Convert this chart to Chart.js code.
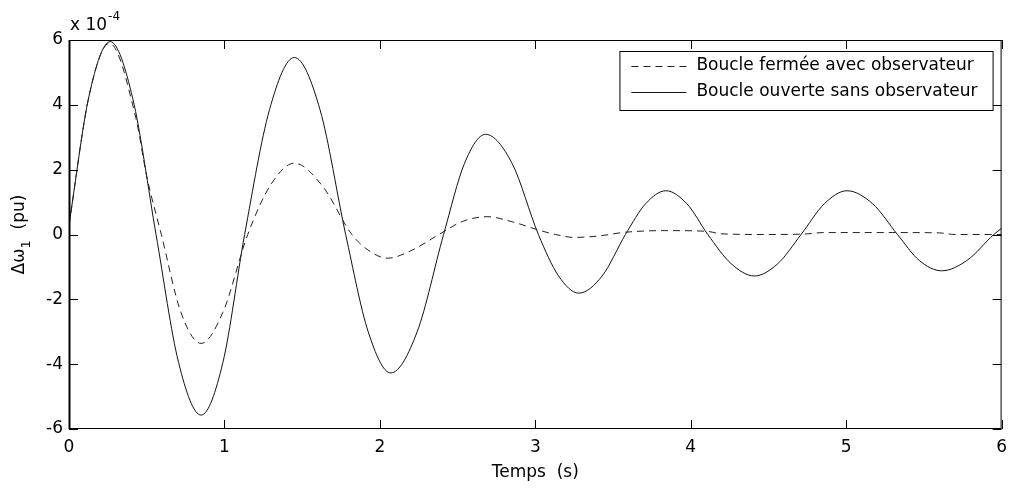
<!DOCTYPE html>
<html>
<head>
<meta charset="utf-8">
<script src="https://cdn.jsdelivr.net/npm/chart.js@4.4.1/dist/chart.umd.min.js"></script>
<style>
    body { margin: 0; background: #fff; }
    #wrap { width: 1015px; height: 488px; }
</style>
</head>
<body>
<div id="wrap"><canvas id="omegaChart"></canvas></div>
<script>
// values in units of 1e-4 pu
const timeOpen = [0, 0.13, 0.265, 0.41, 0.56, 0.705, 0.85, 0.99, 1.13, 1.29, 1.45, 1.615, 1.78, 1.925, 2.07, 2.24, 2.41, 2.545, 2.68, 2.85, 3.02, 3.15, 3.28, 3.43, 3.58, 3.71, 3.84, 3.975, 4.11, 4.26, 4.41, 4.56, 4.71, 4.86, 5.005, 5.17, 5.33, 5.47, 5.615, 5.78, 5.95, 6.0];
const valueOpen = [0.3, 4.3, 5.95, 4.2, 0, -3.95, -5.57, -3.95, 0, 3.85, 5.46, 3.85, 0, -3.0, -4.27, -3.0, 0, 2.2, 3.09, 2.2, 0, -1.28, -1.81, -1.28, 0, 0.95, 1.35, 0.95, 0, -0.9, -1.28, -0.9, 0, 0.95, 1.35, 0.95, 0, -0.8, -1.12, -0.79, 0, 0.19];

const timeClosed = [0, 0.13, 0.26, 0.43, 0.5, 0.594, 0.72, 0.85, 0.99, 1.15, 1.3, 1.45, 1.63, 1.82, 1.93, 2.05, 2.2, 2.38, 2.53, 2.69, 2.86, 3.02, 3.13, 3.25, 3.4, 3.58, 3.83, 4.1, 4.2, 4.5, 4.75, 4.85, 5.3, 5.6, 5.7, 6.0];
const valueClosed = [0.3, 4.3, 5.9, 3.6, 1.8, 0, -2.4, -3.36, -2.4, 0, 1.55, 2.2, 1.5, 0, -0.5, -0.73, -0.5, 0, 0.4, 0.55, 0.38, 0.14, 0.0, -0.09, -0.05, 0.07, 0.12, 0.1, 0.02, 0.0, 0.02, 0.06, 0.06, 0.05, 0.0, 0.0];

const seriesLabels = ["Boucle fermée avec observateur", "Boucle ouverte sans observateur"];
const xTicks = [0, 1, 2, 3, 4, 5, 6];
const yTicks = [-6, -4, -2, 0, 2, 4, 6];

const FONT = "'DejaVu Sans', sans-serif";

function toPoints(xs, ys) {
    return xs.map((t, i) => ({ x: t, y: ys[i] }));
}

const matlabFrame = {
    id: "matlabFrame",
    afterDraw(chart) {
        const { ctx, chartArea: a, scales } = chart;
        const xs = scales.x;
        const ys = scales.y;
        ctx.save();
        ctx.strokeStyle = "#000";

        // box
        ctx.lineWidth = 1;
        ctx.strokeRect(a.left + 0.5, a.top + 0.5, a.right - a.left - 1, a.bottom - a.top - 1);
        ctx.lineWidth = 2;
        ctx.beginPath();
        ctx.moveTo(a.left + 0.5, a.top);
        ctx.lineTo(a.left + 0.5, a.bottom);
        ctx.stroke();

        // inward ticks
        ctx.lineWidth = 1;
        const tl = 9;
        ctx.beginPath();
        xTicks.forEach(v => {
            const px = Math.round(xs.getPixelForValue(v)) + 0.5;
            ctx.moveTo(px, a.bottom); ctx.lineTo(px, a.bottom - tl);
            ctx.moveTo(px, a.top); ctx.lineTo(px, a.top + tl);
        });
        yTicks.forEach(v => {
            const py = Math.round(ys.getPixelForValue(v)) + 0.5;
            ctx.moveTo(a.left, py); ctx.lineTo(a.left + tl, py);
            ctx.moveTo(a.right, py); ctx.lineTo(a.right - tl, py);
        });
        ctx.stroke();

        // exponent label
        ctx.fillStyle = "#000";
        ctx.textAlign = "left";
        ctx.textBaseline = "alphabetic";
        ctx.font = "17px " + FONT;
        ctx.fillText("x 10", a.left + 1, 30);
        const w10 = ctx.measureText("x 10").width;
        ctx.font = "12px " + FONT;
        ctx.fillText("-4", a.left + 2 + w10, 20);

        // x title
        ctx.font = "17px " + FONT;
        ctx.textAlign = "center";
        ctx.fillText("Temps  (s)", (a.left + a.right) / 2, 477);

        // y title
        ctx.save();
        ctx.translate(24, (a.top + a.bottom) / 2);
        ctx.rotate(-Math.PI / 2);
        ctx.textAlign = "left";
        const partA = "\u0394\u03c9";
        const partC = "  (pu)";
        ctx.font = "17px " + FONT;
        const wa = ctx.measureText(partA).width;
        const wc = ctx.measureText(partC).width;
        ctx.font = "13px " + FONT;
        const wb = ctx.measureText("1").width;
        const x0 = -(wa + wb + wc) / 2;
        ctx.font = "17px " + FONT;
        ctx.fillText(partA, x0, 0);
        ctx.font = "13px " + FONT;
        ctx.fillText("1", x0 + wa, 6);
        ctx.font = "17px " + FONT;
        ctx.fillText(partC, x0 + wa + wb, 0);
        ctx.restore();

        // legend
        ctx.font = "17px " + FONT;
        const textW = Math.max(...seriesLabels.map(s => ctx.measureText(s).width));
        const boxRight = a.right - 9;
        const boxLeft = boxRight - textW - 92;
        const boxTop = a.top + 11;
        const boxH = 59;
        ctx.fillStyle = "#fff";
        ctx.fillRect(boxLeft, boxTop, boxRight - boxLeft, boxH);
        ctx.strokeStyle = "#000";
        ctx.lineWidth = 1;
        ctx.strokeRect(boxLeft + 0.5, boxTop + 0.5, boxRight - boxLeft, boxH);
        chart.data.datasets.forEach((ds, i) => {
            const ly = boxTop + 14.5 + i * 26.5;
            ctx.strokeStyle = ds.borderColor;
            ctx.lineWidth = 1;
            ctx.setLineDash(ds.borderDash || []);
            ctx.beginPath();
            ctx.moveTo(boxLeft + 12, Math.round(ly) + 0.5);
            ctx.lineTo(boxLeft + 67, Math.round(ly) + 0.5);
            ctx.stroke();
            ctx.setLineDash([]);
            ctx.fillStyle = "#000";
            ctx.textAlign = "left";
            ctx.textBaseline = "middle";
            ctx.fillText(ds.label, boxLeft + 77, ly);
        });
        ctx.restore();
    }
};

new Chart(document.getElementById("omegaChart"), {
    type: "line",
    data: {
        datasets: [
            {
                label: seriesLabels[0],
                data: toPoints(timeClosed, valueClosed),
                borderColor: "#222",
                borderWidth: 1,
                borderDash: [7, 5],
                pointRadius: 0,
                cubicInterpolationMode: "monotone",
                fill: false
            },
            {
                label: seriesLabels[1],
                data: toPoints(timeOpen, valueOpen),
                borderColor: "#111",
                borderWidth: 1,
                pointRadius: 0,
                cubicInterpolationMode: "monotone",
                fill: false
            }
        ]
    },
    options: {
        responsive: true,
        maintainAspectRatio: false,
        animation: false,
        layout: { padding: { left: 0, top: 40, right: 9, bottom: 0 } },
        plugins: {
            legend: { display: false },
            tooltip: { enabled: false }
        },
        scales: {
            x: {
                type: "linear",
                min: 0,
                max: 6,
                afterBuildTicks: s => { s.ticks = xTicks.map(v => ({ value: v })); },
                afterFit: s => { s.height = 59; },
                grid: { display: false, drawTicks: false },
                border: { display: false },
                ticks: {
                    padding: 8,
                    color: "#000",
                    font: { family: FONT, size: 17 },
                    maxRotation: 0
                }
            },
            y: {
                type: "linear",
                min: -6,
                max: 6,
                afterBuildTicks: s => { s.ticks = yTicks.map(v => ({ value: v })); },
                afterFit: s => { s.width = 69; },
                grid: { display: false, drawTicks: false },
                border: { display: false },
                ticks: {
                    padding: 6,
                    color: "#000",
                    font: { family: FONT, size: 17 }
                }
            }
        }
    },
    plugins: [matlabFrame]
});
</script>
</body>
</html>
